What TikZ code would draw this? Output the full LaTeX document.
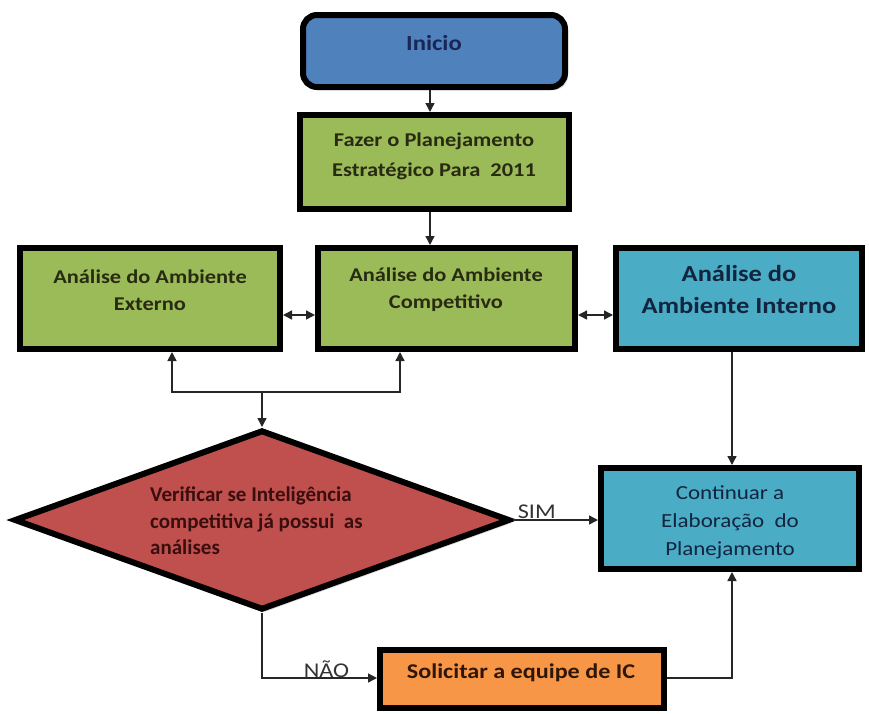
\documentclass[tikz,border=0pt]{standalone}
\usepackage{fontspec}
\setmainfont{Carlito}[FakeStretch=1.15]
\newfontfamily\narrowfont{Carlito}
\usetikzlibrary{shapes.geometric,arrows.meta,shadows}

\definecolor{startblue}{RGB}{79,129,189}
\definecolor{stepgreen}{RGB}{155,187,89}
\definecolor{stepcyan}{RGB}{75,172,198}
\definecolor{decisionred}{RGB}{192,80,77}
\definecolor{steporange}{RGB}{247,150,70}
\definecolor{navytext}{RGB}{25,38,85}
\definecolor{olivetext}{RGB}{40,42,18}
\definecolor{cyantext}{RGB}{18,36,62}
\definecolor{marontext}{RGB}{58,14,14}
\definecolor{browntext}{RGB}{48,22,6}

\tikzset{
  box/.style={draw=black, line width=6pt, inner sep=0pt,
    drop shadow={shadow xshift=3pt, shadow yshift=-3pt, opacity=0.3}},
  txt/.style={inner sep=0pt, align=center},
  conn/.style={draw=black!85, line width=1.4pt},
  tip/.style={-{Triangle[length=9pt,width=9pt]}},
  tips/.style={{Triangle[length=9pt,width=9pt]}-{Triangle[length=9pt,width=9pt]}},
  edgelbl/.style={inner sep=0pt, font=\fontsize{21}{24}\selectfont, text=black!80},
}

\begin{document}
\begin{tikzpicture}[x=1pt,y=-1pt]
\useasboundingbox[fill=white] (0,0) rectangle (869,713);

% boxes
\node[box, fill=startblue, rounded corners=14pt, minimum width=262pt, minimum height=72pt] (inicio) at (434,51) {};
\node[box, fill=stepgreen, minimum width=269pt, minimum height=94pt] (fazer) at (434.5,162) {};
\node[box, fill=stepgreen, minimum width=260pt, minimum height=101pt] (ext) at (150,298.5) {};
\node[box, fill=stepgreen, minimum width=257pt, minimum height=101pt] (comp) at (446.5,298.5) {};
\node[box, fill=stepcyan, minimum width=246pt, minimum height=101pt] (int) at (739,298.5) {};
\node[box, fill=decisionred, shape=diamond, minimum width=496pt, minimum height=180pt] (dec) at (262,520) {};
\node[box, fill=stepcyan, minimum width=258pt, minimum height=101pt] (cont) at (730,518.5) {};
\node[box, fill=steporange, minimum width=284pt, minimum height=58pt] (sol) at (522,679) {};

% texts
\node[txt, text=navytext, font=\fontsize{21.5}{26}\selectfont\bfseries] (inicio-t) at (434,43) {Inicio};
\node[txt, text=olivetext, font=\fontsize{19.5}{30}\selectfont\bfseries] (fazer-t) at (434,156) {Fazer o Planejamento\\Estratégico Para~ 2011};
\node[txt, text=olivetext, font=\fontsize{19.5}{27}\selectfont\bfseries] (ext-t) at (150,290) {Análise do Ambiente\\Externo};
\node[txt, text=olivetext, font=\fontsize{19.5}{27}\selectfont\bfseries] (comp-t) at (446,290) {Análise do Ambiente\\Competitivo};
\node[txt, text=cyantext, font=\fontsize{23}{32}\selectfont\bfseries] (int-t) at (739,290) {Análise do\\Ambiente Interno};
\node[txt, text=marontext, align=left, anchor=west, font=\narrowfont\fontsize{21}{26.5}\selectfont\bfseries] (dec-t) at (150,521) {Verificar se Inteligência\\competitiva já possui~ as\\análises};
\node[txt, text=cyantext, font=\fontsize{20}{28}\selectfont] (cont-t) at (730,522) {Continuar a\\Elaboração~ do\\Planejamento};
\node[txt, text=browntext, font=\fontsize{21}{26}\selectfont\bfseries] (sol-t) at (521,673) {Solicitar a equipe de IC};

% connectors
\coordinate (j) at (262,392);
\draw[conn, tip] (inicio.south -| 430,0) -- (fazer.north -| 430,0);
\draw[conn, tip] (fazer.south -| 430,0) -- (comp.north -| 430,0);
\draw[conn, tips] (ext.east |- 0,315) -- (comp.west |- 0,315);
\draw[conn, tips] (comp.east |- 0,315) -- (int.west |- 0,315);
\draw[conn, tip] (j) -| (ext.south -| 172,0);
\draw[conn, tip] (j) -| (comp.south -| 400,0);
\draw[conn, tip] (j) -- (dec.north);
\draw[conn, tip] (dec.east) -- (cont.west |- dec.east)
  node[edgelbl, pos=0.28, anchor=base, yshift=2pt] (sim) {SIM};
\draw[conn, tip] (int.south -| 732,0) -- (cont.north -| 732,0);
\draw[conn, tip] (dec.south) |- (sol.west |- 0,678)
  node[edgelbl, pos=0.78, anchor=base, yshift=1pt] (nao) {NÃO};
\draw[conn, tip] (sol.east |- 0,678) -| (cont.south -| 732,0);
\end{tikzpicture}
\end{document}
